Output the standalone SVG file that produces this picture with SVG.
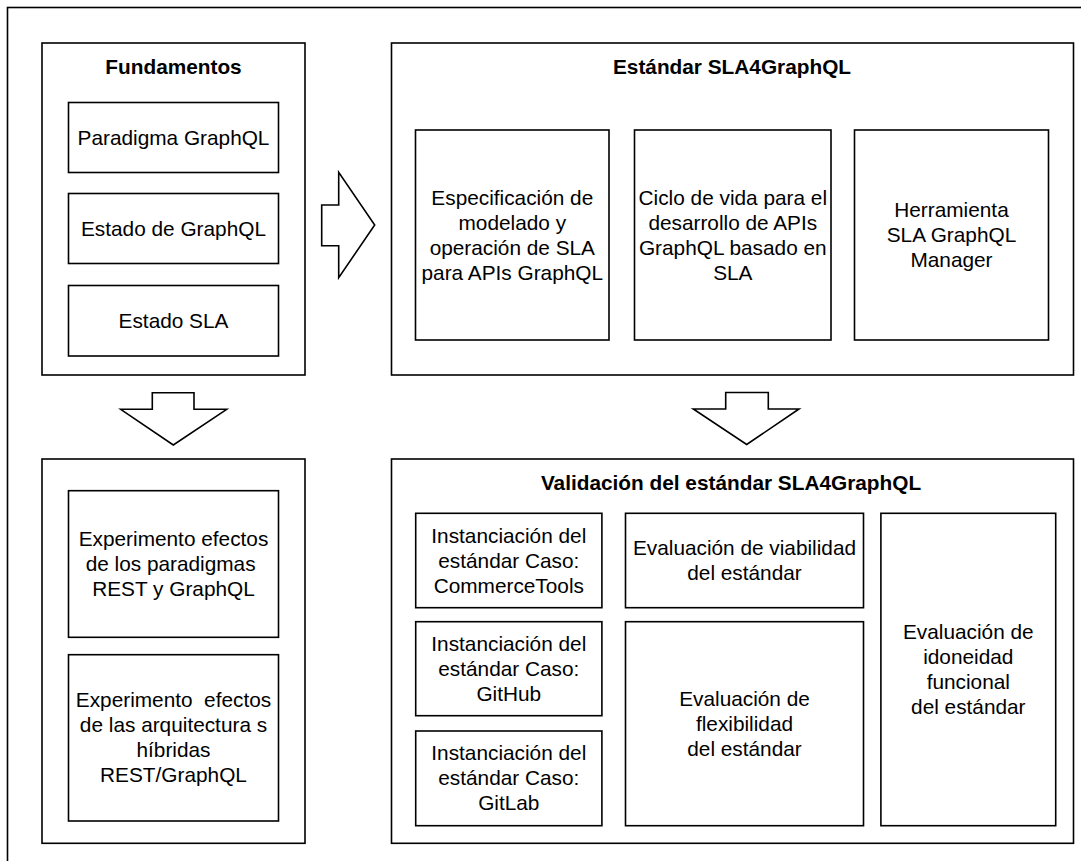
<svg xmlns="http://www.w3.org/2000/svg" width="1081" height="861" viewBox="0 0 1081 861">
  <style>
    .box { fill: #ffffff; stroke: #000000; stroke-width: 1.6; }
    .arrow { fill: #ffffff; stroke: #000000; stroke-width: 1.6; stroke-linejoin: miter; }
    .lbl { font-family: "Liberation Sans", Arial, Helvetica, sans-serif; font-size: 20.8px; fill: #000000; text-anchor: middle; }
    .ttl { font-family: "Liberation Sans", Arial, Helvetica, sans-serif; font-size: 20.8px; font-weight: bold; fill: #000000; text-anchor: middle; }
  </style>

  <rect x="0" y="0" width="1081" height="861" fill="#ffffff"/>

  <!-- outer frame (runs past the right and bottom edges) -->
  <rect id="frame" x="7.5" y="7.5" width="1200" height="1000" fill="none" stroke="#000000" stroke-width="1.6"/>

  <!-- Fundamentos -->
  <g id="fundamentos">
    <rect class="box" x="42" y="43" width="263" height="332"/>
    <text class="ttl" x="173.5" y="74">Fundamentos</text>
  </g>
  <g id="paradigma-graphql">
    <rect class="box" x="68.5" y="102.5" width="210" height="70"/>
    <text class="lbl" x="173.5" y="144.5">Paradigma GraphQL</text>
  </g>
  <g id="estado-graphql">
    <rect class="box" x="68.5" y="193.5" width="210" height="70"/>
    <text class="lbl" x="173.5" y="235.5">Estado de GraphQL</text>
  </g>
  <g id="estado-sla">
    <rect class="box" x="68.5" y="285.5" width="210" height="70.5"/>
    <text class="lbl" x="173.5" y="327.7">Estado SLA</text>
  </g>

  <!-- Estándar SLA4GraphQL -->
  <g id="estandar">
    <rect class="box" x="391.5" y="43" width="682" height="332"/>
    <text class="ttl" x="732" y="74">Estándar SLA4GraphQL</text>
  </g>
  <g id="especificacion">
    <rect class="box" x="415.5" y="130" width="193.5" height="210"/>
    <text class="lbl"><tspan x="512.3" y="204.5">Especificación de</tspan><tspan x="512.3" y="229.5">modelado y</tspan><tspan x="512.3" y="254.5">operación de SLA</tspan><tspan x="512.3" y="279.5">para APIs GraphQL</tspan></text>
  </g>
  <g id="ciclo-vida">
    <rect class="box" x="634.5" y="130" width="196.5" height="210"/>
    <text class="lbl"><tspan x="732.8" y="204.5">Ciclo de vida para el</tspan><tspan x="732.8" y="229.5">desarrollo de APIs</tspan><tspan x="732.8" y="254.5">GraphQL basado en</tspan><tspan x="732.8" y="279.5">SLA</tspan></text>
  </g>
  <g id="herramienta">
    <rect class="box" x="854.5" y="130" width="194" height="210"/>
    <text class="lbl"><tspan x="951.5" y="217">Herramienta</tspan><tspan x="951.5" y="242">SLA GraphQL</tspan><tspan x="951.5" y="267">Manager</tspan></text>
  </g>

  <!-- Experimentos -->
  <g id="experimentos">
    <rect class="box" x="42" y="459" width="263" height="384.3"/>
  </g>
  <g id="experimento-paradigmas">
    <rect class="box" x="68.5" y="490.7" width="210" height="146.6"/>
    <text class="lbl"><tspan x="173.5" y="546">Experimento efectos</tspan><tspan x="173.5" y="571">de los paradigmas&#160;</tspan><tspan x="173.5" y="596">REST y GraphQL</tspan></text>
  </g>
  <g id="experimento-hibridas">
    <rect class="box" x="68.5" y="654.7" width="210" height="166.3"/>
    <text class="lbl"><tspan x="173.5" y="707.3">Experimento&#160; efectos</tspan><tspan x="173.5" y="732.3">de las arquitectura s</tspan><tspan x="173.5" y="757.3">híbridas</tspan><tspan x="173.5" y="782.3">REST/GraphQL</tspan></text>
  </g>

  <!-- Validación del estándar -->
  <g id="validacion">
    <rect class="box" x="391.5" y="459" width="682" height="384.3"/>
    <text class="ttl" x="731" y="490">Validación del estándar SLA4GraphQL</text>
  </g>
  <g id="caso-commercetools">
    <rect class="box" x="415.7" y="513.3" width="186.2" height="94.4"/>
    <text class="lbl"><tspan x="508.8" y="542.5">Instanciación del</tspan><tspan x="508.8" y="567.5">estándar Caso:</tspan><tspan x="508.8" y="592.5">CommerceTools</tspan></text>
  </g>
  <g id="caso-github">
    <rect class="box" x="415.7" y="621.7" width="186.2" height="94"/>
    <text class="lbl"><tspan x="508.8" y="650.7">Instanciación del</tspan><tspan x="508.8" y="675.7">estándar Caso:</tspan><tspan x="508.8" y="700.7">GitHub</tspan></text>
  </g>
  <g id="caso-gitlab">
    <rect class="box" x="415.7" y="731" width="186.2" height="94.7"/>
    <text class="lbl"><tspan x="508.8" y="760.3">Instanciación del</tspan><tspan x="508.8" y="785.3">estándar Caso:</tspan><tspan x="508.8" y="810.3">GitLab</tspan></text>
  </g>
  <g id="viabilidad">
    <rect class="box" x="625.5" y="513.3" width="238" height="94.4"/>
    <text class="lbl"><tspan x="744.5" y="555">Evaluación de viabilidad</tspan><tspan x="744.5" y="580">del estándar</tspan></text>
  </g>
  <g id="flexibilidad">
    <rect class="box" x="625.5" y="621.7" width="238" height="204"/>
    <text class="lbl"><tspan x="744.5" y="705.7">Evaluación de</tspan><tspan x="744.5" y="730.7">flexibilidad</tspan><tspan x="744.5" y="755.7">del estándar</tspan></text>
  </g>
  <g id="idoneidad">
    <rect class="box" x="880.9" y="513.3" width="174.8" height="312.4"/>
    <text class="lbl"><tspan x="968.3" y="639">Evaluación de</tspan><tspan x="968.3" y="664">idoneidad</tspan><tspan x="968.3" y="689">funcional</tspan><tspan x="968.3" y="714">del estándar</tspan></text>
  </g>

  <!-- block arrows between stages -->
  <g id="connectors">
    <polygon class="arrow" points="321.7,205 338.7,205 338.7,172.3 374.7,225 338.7,277.7 338.7,245.7 321.7,245.7"/>
    <polygon class="arrow" points="152.3,392.7 194,392.7 194,409.3 226.7,409.3 173.3,445 120.7,409.3 152.3,409.3"/>
    <polygon class="arrow" points="725.7,392.5 768.3,392.5 768.3,409 799,409 746.7,444.5 693.3,409 725.7,409"/>
  </g>
</svg>
